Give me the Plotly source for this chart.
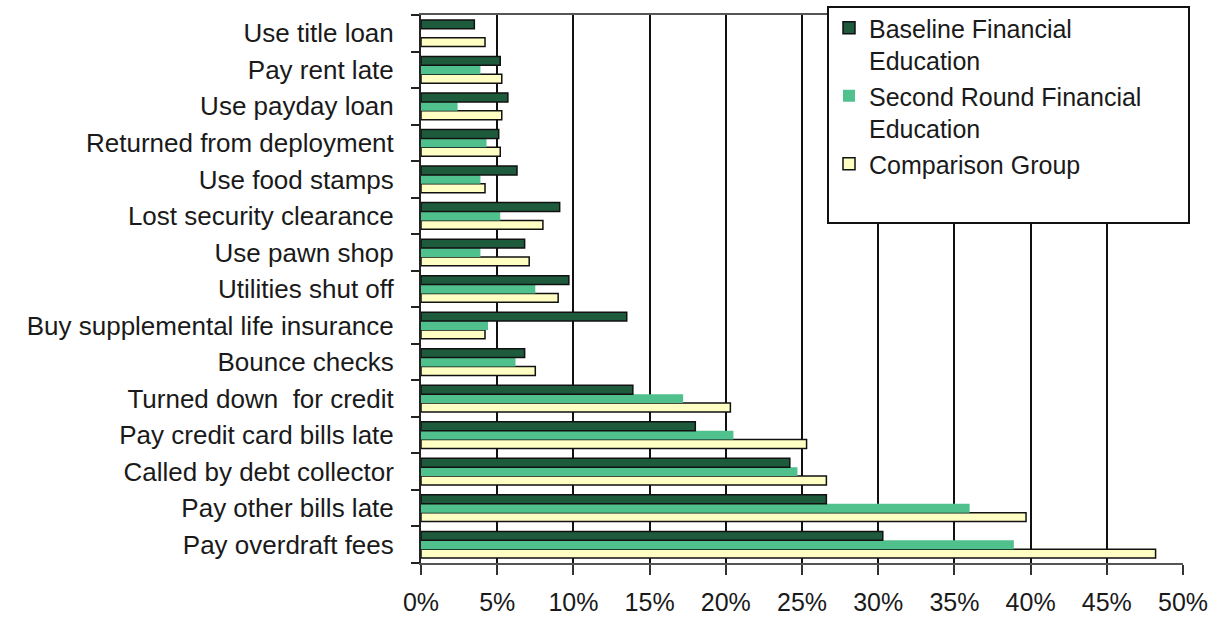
import plotly.graph_objects as go

categories = [
    "Use title loan", "Pay rent late", "Use payday loan", "Returned from deployment",
    "Use food stamps", "Lost security clearance", "Use pawn shop", "Utilities shut off",
    "Buy supplemental life insurance", "Bounce checks", "Turned down  for credit",
    "Pay credit card bills late", "Called by debt collector", "Pay other bills late",
    "Pay overdraft fees",
]
baseline = [3.5, 5.2, 5.7, 5.1, 6.3, 9.1, 6.8, 9.7, 13.5, 6.8, 13.9, 18.0, 24.2, 26.6, 30.3]
second_round = [0, 3.9, 2.4, 4.3, 3.9, 5.2, 3.9, 7.5, 4.4, 6.2, 17.2, 20.5, 24.7, 36.0, 38.9]
comparison = [4.2, 5.3, 5.3, 5.2, 4.2, 8.0, 7.1, 9.0, 4.2, 7.5, 20.3, 25.3, 26.6, 39.7, 48.2]

x_ticks = [0, 5, 10, 15, 20, 25, 30, 35, 40, 45, 50]
x_tick_labels = ["0%", "5%", "10%", "15%", "20%", "25%", "30%", "35%", "40%", "45%", "50%"]

FONT = "Liberation Sans, Arial, sans-serif"

fig = go.Figure()
fig.add_trace(go.Bar(y=categories, x=comparison, orientation="h",
                     name="Comparison Group",
                     marker=dict(color="#FFFFC4", line=dict(color="#111111", width=1.5))))
fig.add_trace(go.Bar(y=categories, x=second_round, orientation="h",
                     name="Second Round Financial<br>Education",
                     marker=dict(color="#50C08D", line=dict(color="#50C08D", width=0))))
fig.add_trace(go.Bar(y=categories, x=baseline, orientation="h",
                     name="Baseline Financial<br>Education",
                     marker=dict(color="#1E5B3D", line=dict(color="#111111", width=1.5))))

W, H = 1217, 618
L, R, T, B = 421, 34, 15, 55
pw, ph = W - L - R, H - T - B

def px_x(p):
    return (p - L) / pw

def px_y(p):
    return (H - B - p) / ph

fig.update_layout(
    width=W, height=H,
    margin=dict(l=L, r=R, t=T, b=B, autoexpand=False),
    barmode="group", bargap=0.27, bargroupgap=0,
    plot_bgcolor="white", paper_bgcolor="white",
    font=dict(family=FONT, size=26, color="#1a1a1a"),
    showlegend=True,
    legend=dict(
        x=px_x(829), y=px_y(5), xanchor="left", yanchor="top",
        traceorder="reversed", valign="top",
        bgcolor="rgba(0,0,0,0)", borderwidth=0,
        font=dict(family=FONT, size=25, color="#1a1a1a"),
    ),
    shapes=[dict(type="rect", xref="paper", yref="paper",
                 x0=px_x(828), x1=px_x(1189), y0=px_y(223), y1=px_y(7),
                 fillcolor="white", line=dict(color="#111111", width=2), layer="above")],
    xaxis=dict(
        range=[0, 50], tickvals=x_ticks, ticktext=x_tick_labels,
        showgrid=True, gridcolor="#111111", gridwidth=2,
        showline=True, linecolor="#555555", linewidth=2, mirror=True,
        ticks="outside", ticklen=10, tickcolor="#333333", tickwidth=2,
        ticklabelstandoff=6, zeroline=False, automargin=False,
        tickfont=dict(family=FONT, size=25, color="#1a1a1a"),
        fixedrange=True,
    ),
    yaxis=dict(
        categoryorder="array", categoryarray=list(reversed(categories)),
        range=[-0.5, len(categories) - 0.5],
        showline=True, linecolor="#222222", linewidth=2,
        ticks="outside", tickson="boundaries", ticklen=8, tickcolor="#222222", tickwidth=2,
        ticklabelstandoff=20, showgrid=False, automargin=False,
    ),
)

fig.write_html("out.html")
